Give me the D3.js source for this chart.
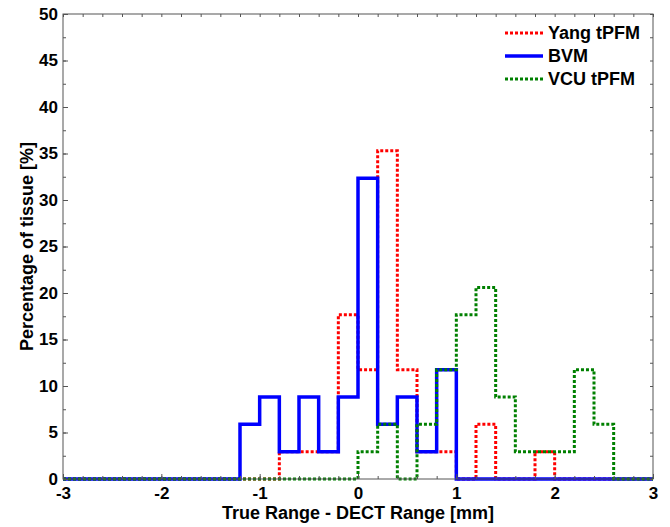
<!DOCTYPE html>
<html>
<head>
<meta charset="utf-8">
<script src="https://cdn.jsdelivr.net/npm/d3@7"></script>
<style>
  html, body { margin: 0; padding: 0; background: #fff; }
  svg { display: block; }
  text { font-family: "Liberation Sans", Arial, sans-serif; font-weight: bold; fill: #000; }
</style>
</head>
<body>
<svg id="chart" width="670" height="527"></svg>
<script>
// Histogram bins: 0.2 mm wide, left edges from -3.0 to 2.8
const binStart = d3.range(30).map(i => +(-3 + 0.2 * i).toFixed(1));
const binWidth = 0.2;

// Percentage of tissue per bin
const yangTPFM = [0,0,0,0,0,0,0,0,0,0, 0,2.94,2.94,2.94,17.65,11.76,35.29,11.76,2.94,2.94, 0,5.88,0,0,2.94,0,0,0,0,0];
const bvm      = [0,0,0,0,0,0,0,0,0,5.88, 8.82,2.94,8.82,2.94,8.82,32.35,5.88,8.82,2.94,11.76, 0,0,0,0,0,0,0,0,0,0];
const vcuTPFM  = [0,0,0,0,0,0,0,0,0,0, 0,0,0,0,0,2.94,5.88,0,5.88,11.76, 17.65,20.59,8.82,2.94,2.94,2.94,11.76,5.88,0,0];

const seriesNames = ["Yang tPFM", "BVM", "VCU tPFM"];
const xTickValues = [-3, -2, -1, 0, 1, 2, 3];
const yTickValues = [0, 5, 10, 15, 20, 25, 30, 35, 40, 45, 50];

const series = [
  { name: seriesNames[0], values: yangTPFM, color: "#ff0000", width: 3, dash: "3,2" },
  { name: seriesNames[1], values: bvm,      color: "#0000ff", width: 3.5, dash: null },
  { name: seriesNames[2], values: vcuTPFM,  color: "#008000", width: 3, dash: "3,2" }
];

const svg = d3.select("#chart");
const m = { left: 63, right: 653, top: 14, bottom: 479 };

const x = d3.scaleLinear().domain([-3, 3]).range([m.left, m.right]);
const y = d3.scaleLinear().domain([0, 50]).range([m.bottom, m.top]);

// Step lines
const line = d3.line()
  .x(d => x(d[0]))
  .y(d => y(d[1]))
  .curve(d3.curveStepAfter);

series.forEach(s => {
  const pts = binStart.map((b, i) => [b, s.values[i]]);
  pts.push([binStart[binStart.length - 1] + binWidth, s.values[s.values.length - 1]]);
  svg.append("path")
    .attr("d", line(pts))
    .attr("fill", "none")
    .attr("stroke", s.color)
    .attr("stroke-width", s.width)
    .attr("stroke-dasharray", s.dash)
    .attr("stroke-linejoin", "miter");
});

// Axes with inward ticks
const minorX = d3.range(-3, 3.0001, 0.2).map(v => +v.toFixed(1));
const minorY = d3.range(0, 50.0001, 2.5);
const axisColor = "#555";
const plainNum = d => String(d);

const bottomMinor = d3.axisBottom(x).tickValues(minorX).tickSize(-3).tickFormat("");
const bottomMajor = d3.axisBottom(x).tickValues(xTickValues).tickSize(-5).tickPadding(8).tickFormat(plainNum);
const topMinor = d3.axisTop(x).tickValues(minorX).tickSize(-3).tickFormat("");
const leftMinor = d3.axisLeft(y).tickValues(minorY).tickSize(-3).tickFormat("");
const leftMajor = d3.axisLeft(y).tickValues(yTickValues).tickSize(-5).tickPadding(5).tickFormat(plainNum);
const rightMinor = d3.axisRight(y).tickValues(minorY).tickSize(-3).tickFormat("");

function styleAxis(g) {
  g.select(".domain").remove();
  g.selectAll(".tick line").attr("stroke", axisColor).attr("stroke-width", 1);
  g.selectAll(".tick text").style("font-size", "17px").style("font-family", "Liberation Sans, Arial, sans-serif").style("font-weight", "bold").attr("fill", "#000");
}

svg.append("g").attr("transform", `translate(0,${m.bottom})`).call(bottomMinor).call(styleAxis);
svg.append("g").attr("transform", `translate(0,${m.bottom})`).call(bottomMajor).call(styleAxis);
svg.append("g").attr("transform", `translate(0,${m.top})`).call(topMinor).call(styleAxis);
svg.append("g").attr("transform", `translate(${m.left},0)`).call(leftMinor).call(styleAxis);
svg.append("g").attr("transform", `translate(${m.left},0)`).call(leftMajor).call(styleAxis);
svg.append("g").attr("transform", `translate(${m.right},0)`).call(rightMinor).call(styleAxis);

// Frame
svg.append("rect")
  .attr("x", m.left).attr("y", m.top)
  .attr("width", m.right - m.left).attr("height", m.bottom - m.top)
  .attr("fill", "none").attr("stroke", axisColor).attr("stroke-width", 1);

// Axis titles
svg.append("text")
  .attr("x", (m.left + m.right) / 2).attr("y", 519)
  .attr("text-anchor", "middle")
  .style("font-size", "18px")
  .text("True Range - DECT Range [mm]");

svg.append("text")
  .attr("transform", `translate(33,${(m.top + m.bottom) / 2}) rotate(-90)`)
  .attr("text-anchor", "middle")
  .style("font-size", "18px")
  .text("Percentage of tissue [%]");

// Legend
const legend = svg.append("g");
series.forEach((s, i) => {
  const ly = 33 + i * 23;
  legend.append("line")
    .attr("x1", 505).attr("x2", 543)
    .attr("y1", ly).attr("y2", ly)
    .attr("stroke", s.color)
    .attr("stroke-width", s.width)
    .attr("stroke-dasharray", s.dash);
  legend.append("text")
    .attr("x", 548).attr("y", ly)
    .attr("dy", "0.35em")
    .style("font-size", "18px")
    .text(s.name);
});
</script>
</body>
</html>
